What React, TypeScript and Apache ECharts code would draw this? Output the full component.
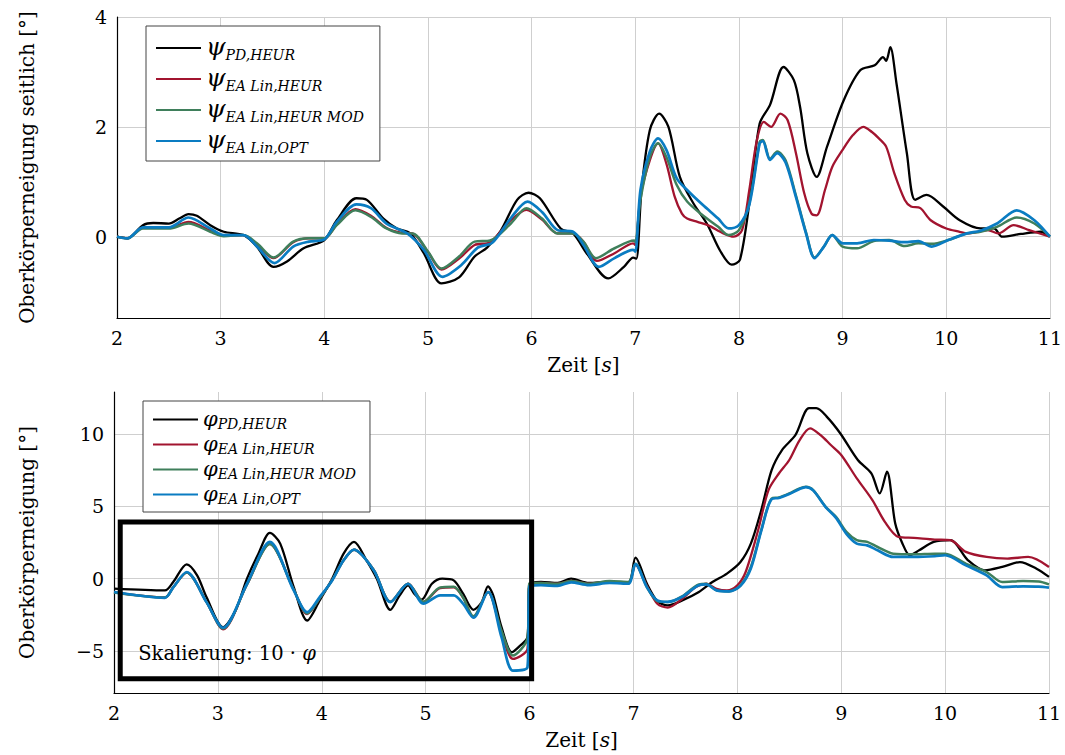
import React, { useEffect, useRef } from "react";
import * as echarts from "echarts";

// ---------- data: time [s], value ----------
// Top: Oberkörperneigung seitlich (psi)
const psiPD: number[][] = [
  [2.0, 0], [2.1, -0.03], [2.25, 0.21], [2.35, 0.25], [2.5, 0.24], [2.6, 0.33], [2.69, 0.41], [2.77, 0.38],
  [2.9, 0.21], [3.03, 0.09], [3.22, 0.03], [3.35, -0.18], [3.51, -0.55], [3.64, -0.45], [3.8, -0.21],
  [4.0, -0.06], [4.12, 0.3], [4.31, 0.7], [4.41, 0.67], [4.57, 0.33], [4.7, 0.15], [4.83, 0.06],
  [4.96, -0.3], [5.13, -0.85], [5.3, -0.74], [5.45, -0.36], [5.57, -0.2], [5.7, 0.1], [5.86, 0.67],
  [5.97, 0.8], [6.08, 0.7], [6.28, 0.15], [6.4, 0.06], [6.53, -0.3], [6.74, -0.76], [6.89, -0.55],
  [6.98, -0.38], [7.01, -0.4], [7.06, 0.85], [7.14, 1.94], [7.23, 2.24], [7.32, 2.0], [7.43, 1.09],
  [7.56, 0.61], [7.69, 0.24], [7.82, -0.26], [7.93, -0.51], [8.01, -0.42], [8.11, 0.75], [8.2, 2.06],
  [8.3, 2.4], [8.43, 3.09], [8.53, 2.85], [8.59, 2.36], [8.66, 1.52], [8.75, 1.09], [8.85, 1.64],
  [9.01, 2.48], [9.17, 3.03], [9.31, 3.12], [9.39, 3.27], [9.42, 3.2], [9.46, 3.45], [9.52, 2.79],
  [9.62, 1.52], [9.7, 0.67], [9.81, 0.76], [9.97, 0.55], [10.13, 0.3], [10.33, 0.15], [10.46, 0.15],
  [10.54, 0.0], [10.72, 0.05], [10.91, 0.09], [11.0, 0.0],
];
const psiEAH: number[][] = [
  [2.0, 0], [2.1, -0.03], [2.25, 0.16], [2.5, 0.16], [2.69, 0.27], [2.9, 0.11], [3.03, 0.02], [3.22, 0.03],
  [3.35, -0.15], [3.51, -0.39], [3.7, -0.1], [3.85, -0.03], [4.0, -0.03], [4.12, 0.22], [4.3, 0.5],
  [4.45, 0.38], [4.6, 0.16], [4.75, 0.07], [4.85, 0.06], [5.0, -0.28], [5.13, -0.6], [5.3, -0.4],
  [5.45, -0.15], [5.6, -0.1], [5.8, 0.3], [5.95, 0.49], [6.1, 0.31], [6.25, 0.06], [6.4, 0.06],
  [6.5, -0.09], [6.63, -0.44], [6.8, -0.3], [6.98, -0.12], [7.0, -0.15], [7.05, 0.73], [7.14, 1.39],
  [7.22, 1.7], [7.3, 1.33], [7.38, 0.73], [7.45, 0.42], [7.5, 0.33], [7.6, 0.27], [7.7, 0.21],
  [7.85, 0.06], [7.95, 0.0], [8.03, 0.12], [8.1, 0.85], [8.17, 1.73], [8.24, 2.09], [8.31, 2.0],
  [8.4, 2.24], [8.47, 2.12], [8.55, 1.52], [8.63, 0.79], [8.7, 0.42], [8.75, 0.39], [8.83, 0.85],
  [8.9, 1.27], [9.0, 1.58], [9.1, 1.85], [9.2, 2.0], [9.28, 1.91], [9.35, 1.79], [9.42, 1.64],
  [9.5, 1.15], [9.6, 0.67], [9.66, 0.55], [9.75, 0.52], [9.85, 0.3], [10.0, 0.15], [10.13, 0.09],
  [10.2, 0.06], [10.4, 0.12], [10.5, 0.06], [10.65, 0.21], [10.8, 0.12], [11.0, 0.0],
];
const psiEAHM: number[][] = [
  [2.0, 0], [2.1, -0.03], [2.25, 0.15], [2.5, 0.15], [2.69, 0.24], [2.9, 0.09], [3.03, 0.01], [3.22, 0.03],
  [3.35, -0.12], [3.51, -0.38], [3.7, -0.09], [3.85, -0.03], [4.0, -0.03], [4.12, 0.21], [4.3, 0.48],
  [4.45, 0.36], [4.6, 0.15], [4.75, 0.06], [4.85, 0.06], [5.0, -0.27], [5.13, -0.58], [5.3, -0.36],
  [5.45, -0.09], [5.6, -0.07], [5.8, 0.24], [5.95, 0.52], [6.1, 0.33], [6.25, 0.06], [6.4, 0.06],
  [6.5, -0.09], [6.62, -0.39], [6.8, -0.21], [6.99, -0.07], [7.0, -0.1], [7.05, 0.67], [7.14, 1.45],
  [7.22, 1.7], [7.3, 1.45], [7.4, 0.94], [7.5, 0.64], [7.65, 0.39], [7.8, 0.18], [7.9, 0.03],
  [8.0, 0.12], [8.1, 0.61], [8.2, 1.73], [8.23, 1.76], [8.3, 1.42], [8.37, 1.55], [8.45, 1.39],
  [8.55, 0.75], [8.65, 0.06], [8.73, -0.38], [8.82, -0.18], [8.9, 0.03], [9.0, -0.18], [9.14, -0.21],
  [9.3, -0.08], [9.45, -0.06], [9.6, -0.17], [9.73, -0.12], [9.86, -0.13], [10.02, -0.06], [10.2, 0.06],
  [10.33, 0.09], [10.49, 0.18], [10.68, 0.35], [10.85, 0.24], [11.0, 0.0],
];
const psiEAO: number[][] = [
  [2.0, 0], [2.1, -0.03], [2.25, 0.17], [2.5, 0.17], [2.69, 0.35], [2.9, 0.15], [3.03, 0.03], [3.22, 0.03],
  [3.35, -0.18], [3.52, -0.48], [3.7, -0.18], [3.85, -0.09], [4.0, -0.05], [4.12, 0.27], [4.31, 0.59],
  [4.45, 0.52], [4.6, 0.24], [4.8, 0.06], [4.96, -0.24], [5.14, -0.73], [5.32, -0.52], [5.48, -0.2],
  [5.62, -0.11], [5.8, 0.34], [5.96, 0.64], [6.1, 0.45], [6.25, 0.12], [6.4, 0.09], [6.5, -0.15],
  [6.65, -0.55], [6.8, -0.39], [6.98, -0.24], [7.0, -0.27], [7.05, 0.85], [7.14, 1.55], [7.22, 1.79],
  [7.3, 1.58], [7.4, 1.06], [7.5, 0.85], [7.65, 0.58], [7.8, 0.33], [7.9, 0.15], [8.0, 0.21],
  [8.1, 0.58], [8.2, 1.7], [8.23, 1.74], [8.3, 1.4], [8.37, 1.52], [8.45, 1.35], [8.55, 0.72],
  [8.65, 0.04], [8.73, -0.39], [8.82, -0.18], [8.9, 0.03], [9.0, -0.12], [9.14, -0.12], [9.3, -0.06],
  [9.45, -0.07], [9.6, -0.1], [9.73, -0.08], [9.86, -0.18], [10.02, -0.06], [10.2, 0.06], [10.33, 0.11],
  [10.49, 0.24], [10.68, 0.48], [10.85, 0.3], [11.0, 0.0],
];

// Bottom: Oberkörperneigung (phi)
const phiPD: number[][] = [
  [2.0, -0.69], [2.49, -0.81], [2.57, -0.23], [2.7, 0.99], [2.8, 0.23], [2.89, -1.27], [3.05, -3.35],
  [3.17, -2.19], [3.28, 0], [3.39, 1.73], [3.5, 3.16], [3.6, 2.42], [3.73, -0.58], [3.86, -2.89],
  [3.98, -1.5], [4.1, 0], [4.21, 1.73], [4.31, 2.54], [4.43, 1.27], [4.53, 0], [4.66, -2.15],
  [4.75, -1.15], [4.83, -0.46], [4.89, -1.04], [4.96, -1.45], [5.06, -0.35], [5.16, 0], [5.27, -0.12],
  [5.36, -1.04], [5.46, -2.15], [5.54, -1.62], [5.6, -0.53], [5.65, -1.15], [5.73, -3.35], [5.83, -5.08],
  [5.91, -4.62], [5.98, -4.04], [6.0, -0.35], [6.11, -0.23], [6.27, -0.3], [6.4, 0], [6.57, -0.3],
  [6.77, -0.23], [6.95, -0.3], [7.02, 1.45], [7.13, -0.35], [7.23, -1.55], [7.33, -1.85], [7.47, -1.5],
  [7.63, -0.92], [7.76, -0.23], [7.9, 0.35], [8.03, 1.15], [8.13, 2.42], [8.23, 4.73], [8.33, 7.5],
  [8.43, 8.89], [8.56, 9.93], [8.69, 11.78], [8.76, 11.78], [8.86, 11.2], [8.99, 10.05], [9.16, 8.2],
  [9.29, 7.27], [9.37, 5.89], [9.44, 7.39], [9.52, 3.81], [9.59, 2.42], [9.66, 1.62], [9.75, 1.96],
  [9.89, 2.54], [10.05, 2.66], [10.22, 1.27], [10.38, 0.58], [10.55, 0.81], [10.72, 1.15], [10.88, 0.69],
  [11.0, 0.12],
];
const phiEAH: number[][] = [
  [2.0, -0.95], [2.49, -1.3], [2.57, -0.6], [2.7, 0.42], [2.89, -1.6], [3.05, -3.5], [3.28, -0.4],
  [3.5, 2.4], [3.73, -0.75], [3.86, -2.45], [3.98, -1.35], [4.1, -0.1], [4.21, 1.27], [4.31, 2.0],
  [4.5, 0.6], [4.66, -1.6], [4.83, -0.35], [4.98, -1.6], [5.14, -0.65], [5.27, -0.6], [5.36, -1.3],
  [5.46, -2.66], [5.6, -0.92], [5.73, -3.7], [5.84, -5.54], [5.98, -4.85], [6.0, -0.4], [6.11, -0.3],
  [6.27, -0.35], [6.4, -0.15], [6.57, -0.35], [6.77, -0.25], [6.95, -0.3], [7.02, 0.95], [7.13, -0.5],
  [7.23, -1.73], [7.33, -2.0], [7.47, -1.39], [7.6, -0.58], [7.7, -0.35], [7.8, -0.7], [7.9, -0.81],
  [8.0, -0.46], [8.08, 0.46], [8.2, 3.35], [8.3, 6.12], [8.4, 7.27], [8.5, 8.2], [8.6, 9.58],
  [8.7, 10.39], [8.8, 9.93], [8.9, 9.24], [9.0, 8.55], [9.15, 6.93], [9.3, 5.43], [9.42, 3.93],
  [9.55, 2.89], [9.7, 2.82], [9.9, 2.7], [10.05, 2.66], [10.2, 1.85], [10.4, 1.5], [10.6, 1.39],
  [10.8, 1.5], [11.0, 0.81],
];
const phiEAHM: number[][] = [
  [2.0, -0.95], [2.49, -1.3], [2.57, -0.6], [2.7, 0.42], [2.89, -1.6], [3.05, -3.45], [3.28, -0.4],
  [3.5, 2.4], [3.73, -0.75], [3.86, -2.4], [3.98, -1.35], [4.1, -0.1], [4.21, 1.27], [4.31, 2.0],
  [4.5, 0.6], [4.66, -1.6], [4.83, -0.35], [4.98, -1.6], [5.14, -0.6], [5.27, -0.55], [5.36, -1.3],
  [5.46, -2.6], [5.6, -0.92], [5.73, -3.6], [5.84, -5.31], [5.98, -4.1], [6.0, -0.3], [6.11, -0.3],
  [6.27, -0.35], [6.4, -0.16], [6.57, -0.35], [6.77, -0.16], [6.95, -0.23], [7.02, 1.04], [7.13, -0.58],
  [7.23, -1.55], [7.33, -1.62], [7.47, -1.22], [7.63, -0.39], [7.7, -0.35], [7.8, -0.81], [7.92, -0.88],
  [8.03, -0.46], [8.13, 0.81], [8.23, 3.35], [8.33, 5.54], [8.4, 5.61], [8.5, 5.89], [8.6, 6.24],
  [8.66, 6.35], [8.73, 6.12], [8.85, 4.97], [8.95, 4.27], [9.05, 3.23], [9.15, 2.66], [9.25, 2.54],
  [9.35, 2.19], [9.5, 1.73], [9.7, 1.69], [9.9, 1.73], [10.0, 1.73], [10.2, 1.04], [10.4, 0.46],
  [10.55, -0.23], [10.75, -0.16], [10.9, -0.2], [11.0, -0.39],
];
const phiEAO: number[][] = [
  [2.0, -0.92], [2.49, -1.32], [2.57, -0.6], [2.7, 0.46], [2.89, -1.62], [3.05, -3.39], [3.28, -0.35],
  [3.5, 2.54], [3.73, -0.81], [3.86, -2.31], [3.98, -1.27], [4.1, -0.12], [4.21, 1.27], [4.31, 2.01],
  [4.5, 0.58], [4.66, -1.62], [4.83, -0.35], [4.98, -1.73], [5.14, -1.15], [5.27, -1.15], [5.36, -1.73],
  [5.46, -2.7], [5.6, -0.92], [5.73, -4.04], [5.84, -6.35], [5.98, -6.12], [6.0, -0.5], [6.11, -0.45],
  [6.27, -0.5], [6.4, -0.25], [6.57, -0.45], [6.77, -0.3], [6.95, -0.35], [7.02, 1.0], [7.13, -0.6],
  [7.23, -1.5], [7.33, -1.6], [7.47, -1.25], [7.63, -0.45], [7.7, -0.4], [7.8, -0.81], [7.92, -0.88],
  [8.03, -0.5], [8.13, 0.7], [8.23, 3.3], [8.33, 5.5], [8.4, 5.58], [8.5, 5.85], [8.6, 6.2],
  [8.66, 6.33], [8.73, 6.1], [8.85, 4.95], [8.95, 4.2], [9.05, 3.1], [9.15, 2.42], [9.25, 2.3],
  [9.35, 1.96], [9.5, 1.5], [9.7, 1.5], [9.9, 1.55], [10.0, 1.62], [10.2, 0.92], [10.4, 0.23],
  [10.55, -0.58], [10.75, -0.53], [10.9, -0.55], [11.0, -0.62],
];

const xMin = 2;
const xMax = 11;
const topYRange = [-1.48, 4];
const topYStep = 2;
const botYRange = [-7.9, 12.9];
const botYStep = 5;
const scaleBoxX = [2.06, 6.02];
const scaleBoxY = [3.91, -6.92];

const topNames = ["psiPD", "psiEAH", "psiEAHM", "psiEAO"];
const botNames = ["phiPD", "phiEAH", "phiEAHM", "phiEAO"];
const subLabels = ["PD,HEUR", "EA Lin,HEUR", "EA Lin,HEUR MOD", "EA Lin,OPT"];
const colors = ["#000000", "#A2142F", "#3F7F5B", "#0A7CC2"];

const FONT = "DejaVu Serif";

export default function App() {
  const ref = useRef<HTMLDivElement>(null);
  useEffect(() => {
    const chart = echarts.init(ref.current!, null, { renderer: "svg" });
    const topData = [psiPD, psiEAH, psiEAHM, psiEAO];
    const botData = [phiPD, phiEAH, phiEAHM, phiEAO];
    const widths = [2.3, 2.3, 2.5, 2.7];
    const series: any[] = [];
    topData.forEach((d, i) =>
      series.push({
        type: "line", name: topNames[i], data: d, xAxisIndex: 0, yAxisIndex: 0,
        symbol: "none", smooth: 0.3, lineStyle: { color: colors[i], width: widths[i] },
        itemStyle: { color: colors[i] }, z: 2 + i,
      })
    );
    botData.forEach((d, i) =>
      series.push({
        type: "line", name: botNames[i], data: d, xAxisIndex: 1, yAxisIndex: 1,
        symbol: "none", smooth: 0.3, lineStyle: { color: colors[i], width: widths[i] },
        itemStyle: { color: colors[i] }, z: 2 + i,
      })
    );
    const xAxisBase = (gi: number) => ({
      type: "value", gridIndex: gi, min: xMin, max: xMax, interval: 1,
      name: "Zeit [{i|s}]", nameLocation: "middle", nameGap: 37,
      nameTextStyle: { fontFamily: FONT, fontSize: 20, color: "#000", rich: { i: { fontFamily: FONT, fontSize: 20, fontStyle: "italic", color: "#000" } } },
      axisLine: { show: true, onZero: false, lineStyle: { color: "#000", width: 1.2 } },
      axisTick: { show: false },
      axisLabel: { fontFamily: FONT, fontSize: 19, color: "#000", margin: 10 },
      splitLine: { show: true, lineStyle: { color: "#cfcfcf", width: 1 } },
    });
    const fmt = (step: number) => (v: number) =>
      Math.abs(v / step - Math.round(v / step)) < 1e-6 ? String(Math.round(v)).replace("-", "−") : "";
    const legendBase = (names: string[], greek: string, left: number, top: number, gap: number, gSize: number, sSize: number, pad: number[], drop: number) => ({
      data: names, orient: "vertical", left, top, itemWidth: 45, itemHeight: 14, itemGap: gap,
      selectedMode: false, itemStyle: { opacity: 0 },
      padding: pad, borderColor: "#444", borderWidth: 1, backgroundColor: "#fff",
      formatter: (n: string) => `{g|${greek}}{s|${subLabels[names.indexOf(n)]}}`,
      textStyle: {
        rich: {
          g: { fontFamily: FONT, fontSize: gSize, fontStyle: "italic", color: "#000", verticalAlign: "top", padding: [0, 0, drop, 0] },
          s: { fontFamily: FONT, fontSize: sSize, fontStyle: "italic", color: "#000", verticalAlign: "bottom" },
        },
      },
    });
    const option: any = {
      animation: false,
      backgroundColor: "#fff",
      grid: [
        { left: 117, top: 17, width: 935, height: 301 },
        { left: 114, top: 392, width: 935, height: 301 },
      ],
      xAxis: [xAxisBase(0), xAxisBase(1)],
      yAxis: [
        {
          type: "value", gridIndex: 0, min: topYRange[0], max: topYRange[1], splitNumber: 3,
          name: "Oberkörperneigung seitlich [°]", nameLocation: "middle", nameGap: 80,
          nameTextStyle: { fontFamily: FONT, fontSize: 20, color: "#000" },
          axisLine: { show: true, onZero: false, lineStyle: { color: "#000", width: 1.2 } },
          axisTick: { show: false },
          axisLabel: { fontFamily: FONT, fontSize: 19, color: "#000", margin: 10, formatter: fmt(topYStep) },
          splitLine: { show: true, showMinLine: false, lineStyle: { color: "#cfcfcf", width: 1 } },
        },
        {
          type: "value", gridIndex: 1, min: botYRange[0], max: botYRange[1], splitNumber: 4,
          name: "Oberkörperneigung [°]", nameLocation: "middle", nameGap: 77,
          nameTextStyle: { fontFamily: FONT, fontSize: 20, color: "#000" },
          axisLine: { show: true, onZero: false, lineStyle: { color: "#000", width: 1.2 } },
          axisTick: { show: false },
          axisLabel: { fontFamily: FONT, fontSize: 19, color: "#000", margin: 10, formatter: fmt(botYStep) },
          splitLine: { show: true, showMinLine: false, showMaxLine: false, lineStyle: { color: "#cfcfcf", width: 1 } },
        },
      ],
      legend: [
        legendBase(topNames, "ψ", 146, 26, 3, 25, 14, [8, 16, 6, 9], 3),
        legendBase(botNames, "φ", 143, 401, 2, 21, 14, [7, 14, 6, 9], 2),
      ],
      series,
    };
    chart.setOption(option);
    const p1 = chart.convertToPixel({ xAxisIndex: 1, yAxisIndex: 1 } as any, [scaleBoxX[0], scaleBoxY[0]]) as number[];
    const p2 = chart.convertToPixel({ xAxisIndex: 1, yAxisIndex: 1 } as any, [scaleBoxX[1], scaleBoxY[1]]) as number[];
    chart.setOption({
      graphic: [
        {
          type: "rect", z: 100,
          shape: { x: p1[0], y: p1[1], width: p2[0] - p1[0], height: p2[1] - p1[1] },
          style: { fill: "none", stroke: "#000", lineWidth: 5 },
        },
        {
          type: "text", z: 100, x: p1[0] + 18, y: p2[1] - 35,
          style: {
            text: "Skalierung: 10 · {i|φ}", fontFamily: FONT, fontSize: 19.5, fill: "#000",
            rich: { i: { fontFamily: FONT, fontSize: 19.5, fontStyle: "italic", fill: "#000" } },
          },
        },
      ],
    });
    return () => chart.dispose();
  }, []);
  return <div ref={ref} style={{ position: "fixed", left: 0, top: 0, width: 1065, height: 755 }} />;
}
